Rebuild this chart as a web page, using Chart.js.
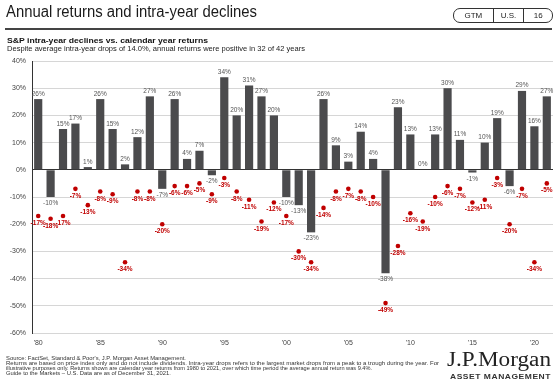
<!DOCTYPE html>
<html><head><meta charset="utf-8">
<script src="https://cdn.jsdelivr.net/npm/chart.js@4.4.1/dist/chart.umd.min.js"></script>
<style>
html,body{margin:0;padding:0;background:#fff;}
#wrap{position:relative;width:557px;height:384px;overflow:hidden;font-family:"Liberation Sans",Arial,sans-serif;color:#222;}
#c{position:absolute;left:0;top:0;}
.t{position:absolute;white-space:nowrap;transform-origin:0 0;}
#badge{position:absolute;left:453px;top:8px;width:98px;height:13px;border:1px solid #333;border-radius:7px;display:flex;font-size:8px;line-height:13px;color:#222;}
#badge span{display:block;text-align:center;}
#badge span+span{border-left:1px solid #333;}
#rule{position:absolute;left:5px;top:28px;width:547px;height:1.5px;background:#444;}
</style></head><body>
<div id="wrap">
<canvas id="c" width="557" height="384"></canvas>
<div class="t" data-w="251" style="left:6px;top:3px;font-size:16px;color:#1a1a1a;">Annual returns and intra-year declines</div>
<div id="badge"><span style="width:39px">GTM</span><span style="width:30px">U.S.</span><span style="width:28px">16</span></div>
<div id="rule"></div>
<div class="t" data-w="201" style="left:7px;top:36px;font-size:8px;font-weight:bold;color:#111;">S&amp;P intra-year declines vs. calendar year returns</div>
<div class="t" data-w="298" style="left:7px;top:45px;font-size:6.5px;color:#222;">Despite average intra-year drops of 14.0%, annual returns were positive in 32 of 42 years</div>
<div class="t" data-w="180" style="left:6px;top:355px;font-size:5px;color:#333;">Source: FactSet, Standard &amp; Poor's, J.P. Morgan Asset Management.</div>
<div class="t" data-w="433" style="left:6px;top:360px;font-size:5px;color:#333;">Returns are based on price index only and do not include dividends. Intra-year drops refers to the largest market drops from a peak to a trough during the year. For</div>
<div class="t" data-w="366" style="left:6px;top:365px;font-size:5px;color:#333;">illustrative purposes only. Returns shown are calendar year returns from 1980 to 2021, over which time period the average annual return was 9.4%.</div>
<div class="t" data-w="165" style="left:6px;top:370px;font-size:5px;color:#333;">Guide to the Markets – U.S. Data are as of December 31, 2021.</div>
<div class="t" data-w="104" style="left:447px;top:348px;font-size:20px;font-family:'Liberation Serif','DejaVu Serif',serif;color:#222;">J.P.Morgan</div>
<div class="t" data-w="101" style="left:450px;top:372px;font-size:8px;font-weight:bold;letter-spacing:0.5px;color:#333;">ASSET MANAGEMENT</div>
</div>
<script>
const years = [1980,1981,1982,1983,1984,1985,1986,1987,1988,1989,1990,1991,1992,1993,1994,1995,1996,1997,1998,1999,2000,2001,2002,2003,2004,2005,2006,2007,2008,2009,2010,2011,2012,2013,2014,2015,2016,2017,2018,2019,2020,2021];
const annualReturns = [26,-10,15,17,1,26,15,2,12,27,-7,26,4,7,-2,34,20,31,27,20,-10,-13,-23,26,9,3,14,4,-38,23,13,0,13,30,11,-1,10,19,-6,29,16,27];
const intraYearDeclines = [-17,-18,-17,-7,-13,-8,-9,-34,-8,-8,-20,-6,-6,-5,-9,-3,-8,-11,-19,-12,-17,-30,-34,-14,-8,-7,-8,-10,-49,-28,-16,-19,-10,-6,-7,-12,-11,-3,-20,-7,-34,-5];
const tickYears = [1980,1985,1990,1995,2000,2005,2010,2015,2020];
const tickLabels = ["'80","'85","'90","'95","'00","'05","'10","'15","'20"];
const yTicks = [40,30,20,10,0,-10,-20,-30,-40,-50,-60];

// fit text widths
document.querySelectorAll('.t[data-w]').forEach(el=>{
  const w = el.getBoundingClientRect().width;
  const target = parseFloat(el.dataset.w);
  if (w>0) el.style.transform = 'scaleX(' + (target/w) + ')';
});

const labelPlugin = {
  id:'valLabels',
  afterDatasetsDraw(chart){
    const ctx = chart.ctx;
    ctx.save();
    ctx.textAlign = 'center';
    const mb = chart.getDatasetMeta(0);
    ctx.font = '6.5px "Liberation Sans", Arial, sans-serif';
    ctx.fillStyle = '#555';
    mb.data.forEach((el,i)=>{
      const v = annualReturns[i];
      if (v >= 0){ ctx.textBaseline='bottom'; ctx.fillText(v+'%', el.x, el.y-2); }
      else { ctx.textBaseline='top'; ctx.fillText(v+'%', el.x, el.y+3); }
    });
    const mp = chart.getDatasetMeta(1);
    ctx.font = 'bold 6.5px "Liberation Sans", Arial, sans-serif';
    ctx.fillStyle = '#c00000';
    ctx.textBaseline = 'top';
    mp.data.forEach((el,i)=>{
      ctx.fillText(intraYearDeclines[i]+'%', el.x, el.y+4);
    });
    ctx.restore();
  }
};

new Chart(document.getElementById('c'), {
  data:{
    labels: years,
    datasets:[
      {type:'bar', data:annualReturns, backgroundColor:'#4b4b4d', barPercentage:0.66, categoryPercentage:1, order:2},
      {type:'line', data:intraYearDeclines, showLine:false, pointRadius:2.3, pointHoverRadius:2.3, pointBackgroundColor:'#c00000', pointBorderColor:'#c00000', pointBorderWidth:0, order:1}
    ]
  },
  options:{
    responsive:false, animation:false,
    layout:{padding:{top:61,bottom:33,left:0,right:4}},
    plugins:{legend:{display:false}, tooltip:{enabled:false}},
    scales:{
      x:{
        grid:{display:false, drawTicks:false},
        border:{display:false},
        afterFit(s){ s.height = 18; },
        ticks:{autoSkip:false, maxRotation:0, padding:6, color:'#444', font:{size:7, family:'"Liberation Sans", Arial, sans-serif'},
          callback(val, i){ const k = tickYears.indexOf(years[i]); return k>=0 ? tickLabels[k] : ''; } }
      },
      y:{
        min:-60, max:40,
        afterFit(s){ s.width = 32; },
        afterBuildTicks(s){ s.ticks = yTicks.map(v=>({value:v})); },
        grid:{drawTicks:false, color:c=> c.tick && c.tick.value===0 ? '#333' : '#d6d6d6', lineWidth:1},
        border:{display:true, color:'#333', width:1},
        ticks:{padding:6, color:'#444', font:{size:7, family:'"Liberation Sans", Arial, sans-serif'}, callback:v=>v+'%'}
      }
    }
  },
  plugins:[labelPlugin]
});
</script>
</body></html>
